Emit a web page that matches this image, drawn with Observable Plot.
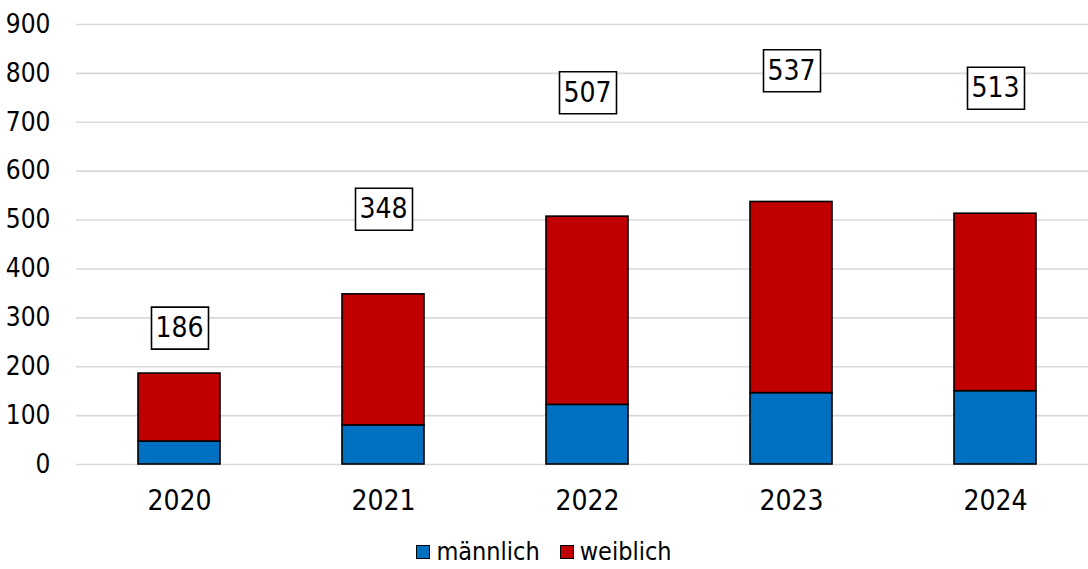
<!DOCTYPE html>
<html>
<head>
<meta charset="utf-8">
<script src="https://cdn.jsdelivr.net/npm/d3@7"></script>
<script src="https://cdn.jsdelivr.net/npm/@observablehq/plot@0.6"></script>
<style>
  html, body { margin: 0; padding: 0; background: #fff; }
  body { width: 1088px; height: 569px; overflow: hidden; font-family: "Liberation Sans Narrow", "Arial Narrow", "DejaVu Sans Condensed", sans-serif; }
  #chart { height: 520px; }
  #legend { display: flex; justify-content: center; align-items: center; height: 30px; margin-top: 17px; font-size: 25px; line-height: 1.1; color: #000; }
  .item { display: flex; align-items: center; margin: 0 10px; }
  .sw { width: 12px; height: 12px; border: 1.5px solid #000; margin-right: 6px; }
</style>
</head>
<body>
<div id="chart"></div>
<div id="legend"></div>
<script>
const years = ["2020", "2021", "2022", "2023", "2024"];
const maleValues = [47, 80, 122, 146, 150];
const femaleValues = [139, 268, 385, 391, 363];
const totals = [186, 348, 507, 537, 513];
const seriesNames = ["männlich", "weiblich"];
const seriesColors = ["#0070C0", "#C00000"];
const yTicks = [0, 100, 200, 300, 400, 500, 600, 700, 800, 900];

const rows = [];
years.forEach((y, i) => {
  rows.push({year: y, sex: seriesNames[0], value: maleValues[i]});
  rows.push({year: y, sex: seriesNames[1], value: femaleValues[i]});
});
const totalRows = years.map((y, i) => ({year: y, total: totals[i]}));

const boxSymbol = { draw(ctx) { ctx.rect(-28, -21, 57, 42); } };

const chart = Plot.plot({
  width: 1088,
  height: 520,
  marginLeft: 76,
  marginRight: -10,
  marginTop: 24,
  marginBottom: 56,
  style: { fontFamily: '"Liberation Sans Narrow", "Arial Narrow", "DejaVu Sans Condensed", sans-serif', background: "#fff", overflow: "visible" },
  x: { domain: years, paddingInner: 0.6, paddingOuter: 0.3, label: null },
  y: { domain: [0, 900], label: null },
  color: { domain: seriesNames, range: seriesColors },
  marks: [
    Plot.gridY(yTicks, { stroke: "#d9d9d9", strokeOpacity: 1, strokeWidth: 1.6 }),
    Plot.axisY(yTicks, { tickSize: 0, tickPadding: 26, fontSize: 26, label: null, fill: "#000" }),
    Plot.axisX({ tickSize: 0, tickPadding: 26, fontSize: 28, label: null, fill: "#000" }),
    Plot.barY(rows, { x: "year", y: "value", fill: "sex", stroke: "#000", strokeWidth: 1.6 }),
    Plot.dot(totalRows, { x: "year", y: d => d.total * 1.5, symbol: boxSymbol, fill: "#fff", stroke: "#000", strokeWidth: 1.6 }),
    Plot.text(totalRows, { x: "year", y: d => d.total * 1.5, text: d => String(d.total), fontSize: 28, fill: "#000" })
  ]
});
document.getElementById("chart").appendChild(chart);

const legend = document.getElementById("legend");
seriesNames.forEach((n, i) => {
  const it = document.createElement("div");
  it.className = "item";
  const sw = document.createElement("div");
  sw.className = "sw";
  sw.style.background = seriesColors[i];
  const t = document.createElement("span");
  t.textContent = n;
  it.appendChild(sw); it.appendChild(t);
  legend.appendChild(it);
});
</script>
</body>
</html>
